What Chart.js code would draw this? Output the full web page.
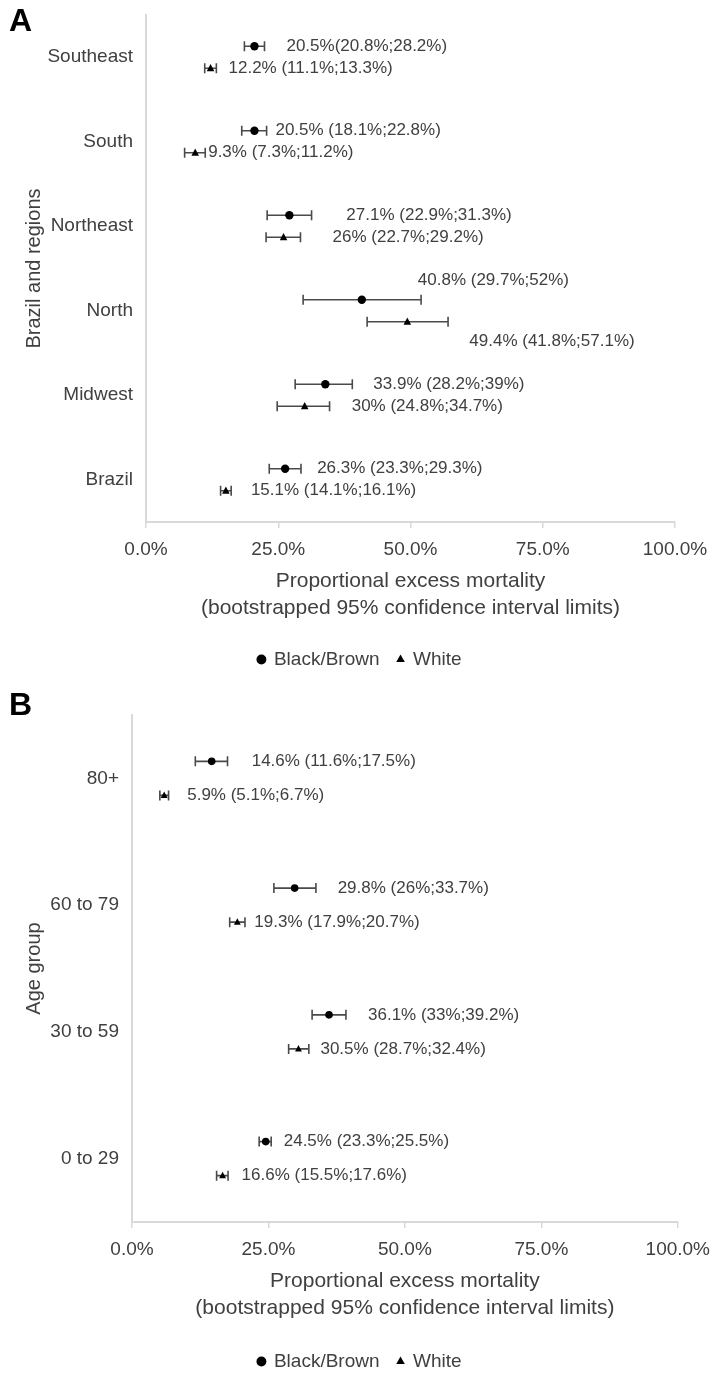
<!DOCTYPE html>
<html>
<head>
<meta charset="utf-8">
<script src="https://cdn.jsdelivr.net/npm/chart.js@4.4.1/dist/chart.umd.min.js"></script>
<style>
  body { margin: 0; background: #fff; width: 720px; height: 1375px; position: relative; overflow: hidden; }
  .panel { position: absolute; left: 0; width: 720px; }
  #panelA { top: 0; height: 700px; }
  #panelB { top: 700px; height: 681px; }
  .tag { position: absolute; left: 9px; font: bold 32px 'Liberation Sans', Arial, sans-serif; line-height: 1; color: #000; }
</style>
</head>
<body>
<div class="panel" id="panelA"><canvas id="chartA" width="720" height="700"></canvas></div>
<div class="panel" id="panelB"><canvas id="chartB" width="720" height="681"></canvas></div>
<div class="tag" style="top:4px">A</div>
<div class="tag" style="top:688px">B</div>
<script>
// ---- panel A: Brazil and regions ----
const regions = ['Southeast', 'South', 'Northeast', 'North', 'Midwest', 'Brazil'];
const regBlackEst  = [20.5, 20.5, 27.1, 40.8, 33.9, 26.3];
const regBlackLow  = [18.6, 18.1, 22.9, 29.7, 28.2, 23.3];
const regBlackHigh = [22.4, 22.8, 31.3, 52.0, 39.0, 29.3];
const regWhiteEst  = [12.2,  9.3, 26.0, 49.4, 30.0, 15.1];
const regWhiteLow  = [11.1,  7.3, 22.7, 41.8, 24.8, 14.1];
const regWhiteHigh = [13.3, 11.2, 29.2, 57.1, 34.7, 16.1];
const regBlackText = ['20.5%(20.8%;28.2%)', '20.5% (18.1%;22.8%)', '27.1% (22.9%;31.3%)',
                      '40.8% (29.7%;52%)', '33.9% (28.2%;39%)', '26.3% (23.3%;29.3%)'];
const regWhiteText = ['12.2% (11.1%;13.3%)', '9.3% (7.3%;11.2%)', '26% (22.7%;29.2%)',
                      '49.4% (41.8%;57.1%)', '30% (24.8%;34.7%)', '15.1% (14.1%;16.1%)'];

// ---- panel B: age group ----
const ages = ['80+', '60 to 79', '30 to 59', '0 to 29'];
const ageBlackEst  = [14.6, 29.8, 36.1, 24.5];
const ageBlackLow  = [11.6, 26.0, 33.0, 23.3];
const ageBlackHigh = [17.5, 33.7, 39.2, 25.5];
const ageWhiteEst  = [ 5.9, 19.3, 30.5, 16.6];
const ageWhiteLow  = [ 5.1, 17.9, 28.7, 15.5];
const ageWhiteHigh = [ 6.7, 20.7, 32.4, 17.6];
const ageBlackText = ['14.6% (11.6%;17.5%)', '29.8% (26%;33.7%)', '36.1% (33%;39.2%)', '24.5% (23.3%;25.5%)'];
const ageWhiteText = ['5.9% (5.1%;6.7%)', '19.3% (17.9%;20.7%)', '30.5% (28.7%;32.4%)', '16.6% (15.5%;17.6%)'];

const xTicks = [0, 25, 50, 75, 100];
const seriesNames = ['Black/Brown', 'White'];

const FONT = "'Liberation Sans', Arial, sans-serif";
const TEXT = '#404040';
const AXIS = '#d9d9d9';
Chart.defaults.font.family = FONT;
Chart.defaults.color = TEXT;

// error bars, markers and value labels, drawn from the bar elements and the x scale
const errorBars = {
  id: 'errorBars',
  afterDatasetsDraw(chart, args, opts) {
    const { ctx } = chart;
    const xs = chart.scales.x;
    ctx.save();
    chart.data.datasets.forEach((ds, di) => {
      const meta = chart.getDatasetMeta(di);
      const shift = opts.shift[di];
      meta.data.forEach((bar, i) => {
        const y = bar.y;
        const lo = xs.getPixelForValue(ds.data[i][0]);
        const hi = xs.getPixelForValue(ds.data[i][1]);
        const px = xs.getPixelForValue(ds.est[i]);
        ctx.strokeStyle = '#4a4a4a';
        ctx.lineWidth = 1.6;
        ctx.beginPath();
        ctx.moveTo(lo, y); ctx.lineTo(hi, y);
        ctx.moveTo(lo, y - opts.cap); ctx.lineTo(lo, y + opts.cap);
        ctx.moveTo(hi, y - opts.cap); ctx.lineTo(hi, y + opts.cap);
        ctx.stroke();
        ctx.fillStyle = '#000';
        ctx.beginPath();
        if (ds.marker === 'circle') {
          ctx.arc(px, y, opts.dot, 0, Math.PI * 2);
        } else {
          ctx.moveTo(px, y - opts.dot);
          ctx.lineTo(px - opts.dot * 0.9, y + opts.dot * 0.7);
          ctx.lineTo(px + opts.dot * 0.9, y + opts.dot * 0.7);
          ctx.closePath();
        }
        ctx.fill();
        ctx.fillStyle = TEXT;
        ctx.font = '17px ' + FONT;
        ctx.textAlign = 'left';
        ctx.textBaseline = 'middle';
        ctx.fillText(ds.text[i], px + shift.dx[i], y + shift.dy[i]);
      });
    });
    ctx.restore();
  }
};

function makeChart(id, cfg) {
  const pairs = (lo, hi) => lo.map((v, i) => [v, hi[i]]);
  return new Chart(document.getElementById(id), {
    type: 'bar',
    data: {
      labels: cfg.labels,
      datasets: [
        { label: seriesNames[0], data: pairs(cfg.blackLow, cfg.blackHigh), est: cfg.blackEst,
          text: cfg.blackText, marker: 'circle', backgroundColor: 'rgba(0,0,0,0)', borderWidth: 0 },
        { label: seriesNames[1], data: pairs(cfg.whiteLow, cfg.whiteHigh), est: cfg.whiteEst,
          text: cfg.whiteText, marker: 'triangle', backgroundColor: 'rgba(0,0,0,0)', borderWidth: 0 }
      ]
    },
    options: {
      indexAxis: 'y',
      responsive: false,
      animation: false,
      categoryPercentage: cfg.catPct,
      barPercentage: 1,
      layout: { padding: { top: cfg.padTop, bottom: cfg.padBottom, left: 0, right: 0 } },
      scales: {
        x: {
          type: 'linear', min: 0, max: 100,
          afterBuildTicks: s => { s.ticks = xTicks.map(v => ({ value: v })); },
          ticks: { font: { size: 19 }, color: TEXT, padding: 10, callback: v => v.toFixed(1) + '%' },
          grid: { drawOnChartArea: false, drawTicks: true, tickLength: 6, color: AXIS, lineWidth: 1.5 },
          border: { display: true, color: AXIS, width: 2 },
          title: {
            display: true,
            text: ['Proportional excess mortality', '(bootstrapped 95% confidence interval limits)'],
            font: { size: 21, lineHeight: 1.25 }, color: TEXT,
            padding: { top: 4, bottom: cfg.titlePadBottom }
          },
          afterFit: s => { s.height = cfg.xAxisHeight; }
        },
        y: {
          type: 'category',
          ticks: { font: { size: 19 }, color: TEXT, padding: 13 },
          grid: { display: false, drawTicks: false },
          border: { display: true, color: AXIS, width: 2 },
          title: { display: true, text: cfg.yTitle, font: { size: 20 }, color: TEXT, padding: { top: 22, bottom: 0 } },
          afterFit: s => { s.width = cfg.yAxisWidth; s.paddingTop = 0; s.paddingBottom = 0; }
        },
        spacer: {
          type: 'linear', position: 'right', display: true,
          ticks: { display: false }, grid: { display: false, drawTicks: false }, border: { display: false },
          afterFit: s => { s.width = cfg.rightGap; s.paddingTop = 0; s.paddingBottom = 0; }
        }
      },
      plugins: {
        tooltip: { enabled: false },
        legend: {
          position: 'bottom',
          labels: {
            usePointStyle: true, boxWidth: 6, boxHeight: 7, padding: 18,
            font: { size: 19 }, color: TEXT,
            generateLabels: () => [
              { text: seriesNames[0], fillStyle: '#000', strokeStyle: '#000', lineWidth: 0, pointStyle: 'circle', fontColor: TEXT, datasetIndex: 0 },
              { text: seriesNames[1], fillStyle: '#000', strokeStyle: '#000', lineWidth: 0, pointStyle: 'triangle', fontColor: TEXT, datasetIndex: 1 }
            ]
          }
        },
        errorBars: { cap: 5, dot: cfg.dot, shift: cfg.shift }
      }
    },
    plugins: [errorBars]
  });
}

makeChart('chartA', {
  labels: regions,
  blackEst: regBlackEst, blackLow: regBlackLow, blackHigh: regBlackHigh, blackText: regBlackText,
  whiteEst: regWhiteEst, whiteLow: regWhiteLow, whiteHigh: regWhiteHigh, whiteText: regWhiteText,
  yTitle: 'Brazil and regions',
  catPct: 0.52, padTop: 15, padBottom: 21, xAxisHeight: 110, titlePadBottom: 11,
  yAxisWidth: 146, rightGap: 45, dot: 4.2,
  shift: [
    { dx: [32, 21, 57, 56, 48, 32], dy: [0, 0, 0, -19, 0, 0] },
    { dx: [18, 13, 49, 62, 47, 25], dy: [0, 0, 0, 20, 0, 0] }
  ]
});

makeChart('chartB', {
  labels: ages,
  blackEst: ageBlackEst, blackLow: ageBlackLow, blackHigh: ageBlackHigh, blackText: ageBlackText,
  whiteEst: ageWhiteEst, whiteLow: ageWhiteLow, whiteHigh: ageWhiteHigh, whiteText: ageWhiteText,
  yTitle: 'Age group',
  catPct: 0.537, padTop: 15, padBottom: 0, xAxisHeight: 112, titlePadBottom: 13,
  yAxisWidth: 132, rightGap: 40, dot: 3.8,
  shift: [
    { dx: [40, 43, 39, 18], dy: [0, 0, 0, 0] },
    { dx: [23, 17, 22, 19], dy: [0, 0, 0, 0] }
  ]
});
</script>
</body>
</html>
